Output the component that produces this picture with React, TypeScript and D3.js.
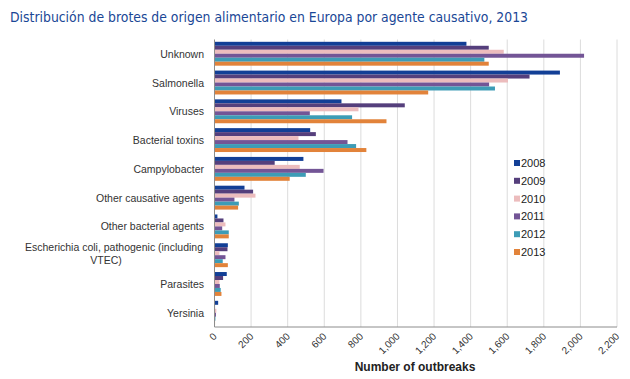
import React from "react";
import * as d3 from "d3";

const categories = [
  "Unknown",
  "Salmonella",
  "Viruses",
  "Bacterial toxins",
  "Campylobacter",
  "Other causative agents",
  "Other bacterial agents",
  "Escherichia coli, pathogenic (including VTEC)",
  "Parasites",
  "Yersinia",
];
const years = ["2008", "2009", "2010", "2011", "2012", "2013"];
const v2008 = [1377, 1888, 694, 523, 486, 164, 16, 73, 67, 20];
const v2009 = [1499, 1722, 1040, 554, 329, 211, 49, 71, 47, 3];
const v2010 = [1581, 1604, 787, 459, 466, 224, 60, 27, 27, 10];
const v2011 = [2020, 1501, 521, 727, 596, 109, 42, 60, 29, 8];
const v2012 = [1475, 1533, 752, 774, 499, 133, 78, 45, 34, 5];
const v2013 = [1499, 1168, 940, 830, 411, 129, 78, 73, 38, 3];
const seriesValues = [v2008, v2009, v2010, v2011, v2012, v2013];
const colors = ["#123f96", "#553f7c", "#ecbcbd", "#735596", "#3d9cb6", "#e2833a"];
const xTicks = [0, 200, 400, 600, 800, 1000, 1200, 1400, 1600, 1800, 2000, 2200];

export default function App() {
  const W = 630, H = 379;
  const left = 214.5, right = 617, top = 39.5, bottom = 327;
  const x = d3.scaleLinear().domain([0, 2200]).range([left, right]);
  const y0 = d3.scaleBand().domain(categories).range([top, bottom]).paddingInner(0.17).paddingOuter(0.08);
  const y1 = d3.scaleBand().domain(years).range([0, y0.bandwidth()]);
  const fmt = d3.format(",");
  const font = "'Liberation Sans', Arial, sans-serif";

  return (
    <svg width={W} height={H} style={{ position: "absolute", left: 0, top: 0, background: "#fff" }} fontFamily={font}>
      <text
        x={10}
        y={22}
        fill="#1a4796"
        fontSize={13.2}
        fontFamily="'DejaVu Sans', Verdana, sans-serif"
        textLength={518}
        lengthAdjust="spacingAndGlyphs"
      >
        Distribución de brotes de origen alimentario en Europa por agente causativo, 2013
      </text>
      {xTicks.slice(1).map((t) => (
        <line key={t} x1={x(t)} x2={x(t)} y1={top} y2={bottom} stroke="#dcdcdc" strokeWidth={1} />
      ))}
      {categories.map((c, ci) => (
        <g key={c}>
          {years.map((yr, si) => (
            <rect
              key={yr}
              x={x(0)}
              y={(y0(c) as number) + (y1(yr) as number)}
              width={Math.max(0, x(seriesValues[si][ci]) - x(0))}
              height={y1.bandwidth()}
              fill={colors[si]}
            />
          ))}
        </g>
      ))}
      <line x1={left} x2={left} y1={top} y2={bottom} stroke="#8c8c8c" />
      <line x1={left} x2={right} y1={bottom} y2={bottom} stroke="#8c8c8c" />
      {categories.map((c) => {
        const cy = (y0(c) as number) + y0.bandwidth() / 2;
        if (c.startsWith("Escherichia")) {
          return (
            <g key={c} fontSize={10.5} fill="#333">
              <text x={203} y={cy - 4} textAnchor="end">Escherichia coli, pathogenic (including</text>
              <text x={106} y={cy + 9} textAnchor="middle">VTEC)</text>
            </g>
          );
        }
        return (
          <text key={c} x={204} y={cy + 4} textAnchor="end" fontSize={10.5} fill="#333">
            {c}
          </text>
        );
      })}
      {xTicks.map((t) => (
        <text
          key={t}
          transform={`translate(${x(t) + 3},${bottom + 10}) rotate(-45)`}
          textAnchor="end"
          fontSize={10}
          fill="#333"
        >
          {fmt(t)}
        </text>
      ))}
      <text x={415} y={371} textAnchor="middle" fontSize={12} fontWeight="bold" fill="#222">
        Number of outbreaks
      </text>
      {years.map((yr, i) => (
        <g key={yr} transform={`translate(514,${163 + i * 17.8})`}>
          <rect x={0} y={-3} width={6} height={6} fill={colors[i]} />
          <text x={7} y={4} fontSize={11} fill="#222">{yr}</text>
        </g>
      ))}
    </svg>
  );
}
